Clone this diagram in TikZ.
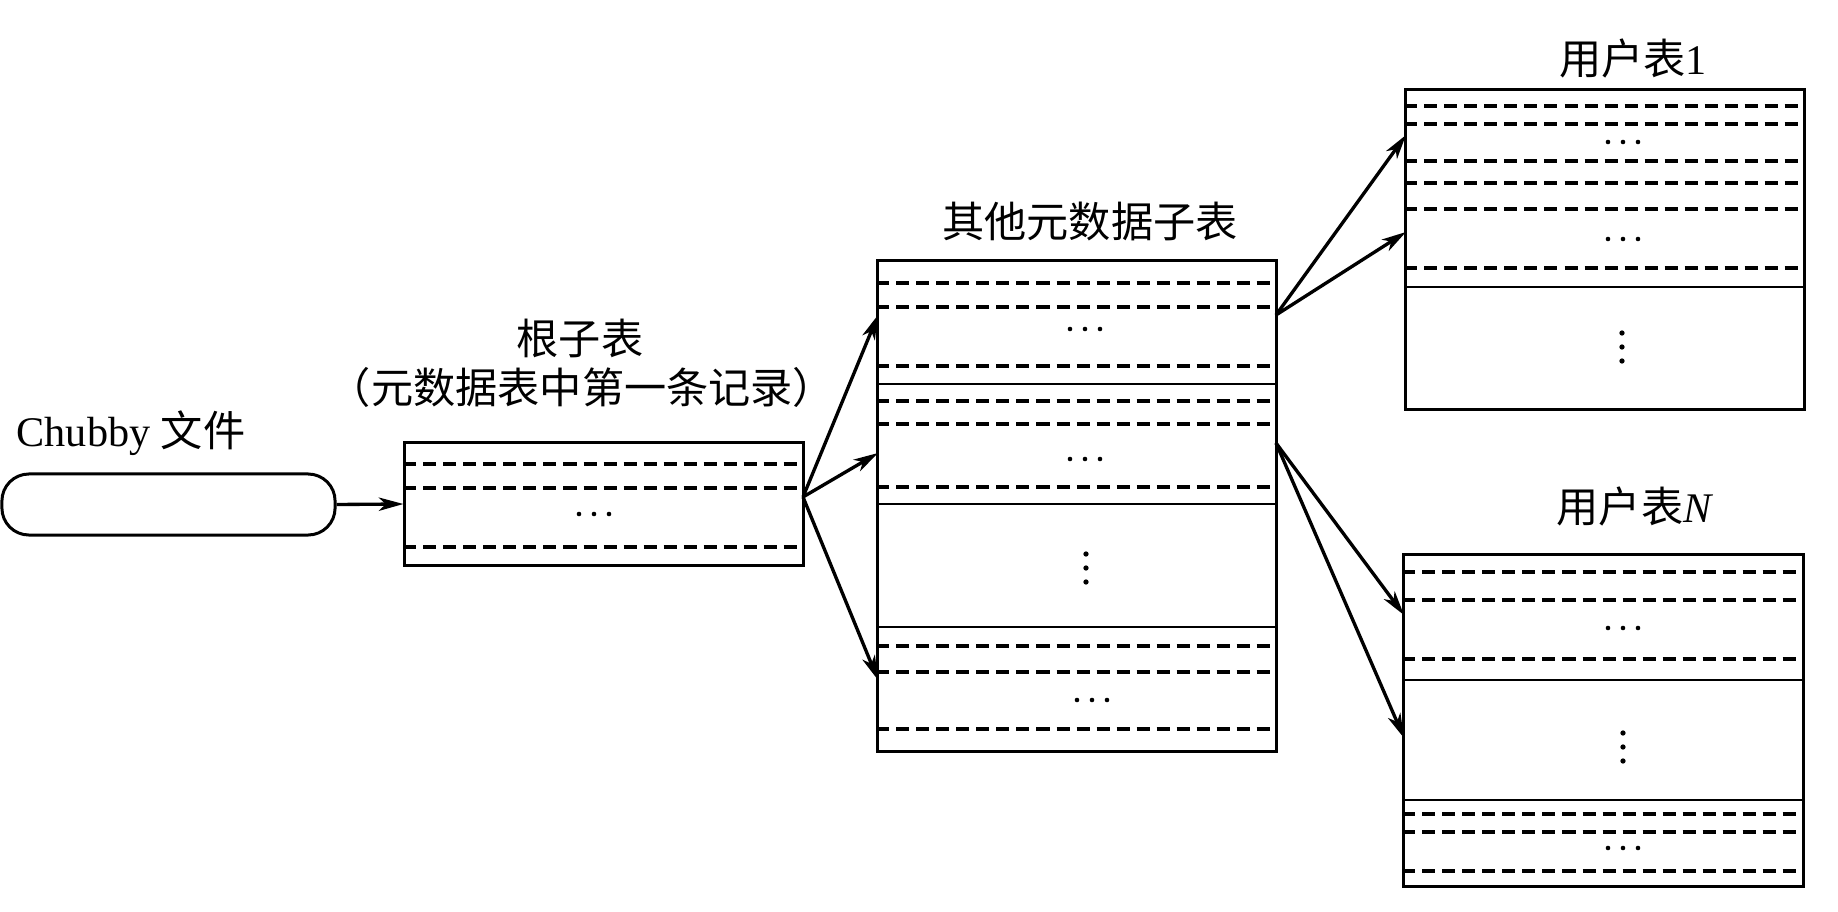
\documentclass[tikz,border=0pt]{standalone}
\usepackage{fontspec}
\setmainfont{Liberation Serif}
\newfontfamily\cjk{Noto Sans CJK SC}
\usetikzlibrary{arrows.meta}
\newcommand\hdt[2]{\foreach \dx in {-15,0,15}{\fill (#1+\dx,#2) circle[radius=0.65pt];}}
\newcommand\vdt[2]{\foreach \dy in {-14,0,14}{\fill (#1,#2+\dy) circle[radius=0.75pt];}}
\tikzset{
  tbox/.style={draw, line width=0.85pt, inner sep=0pt},
  dline/.style={line width=1pt, dash pattern=on 0.13cm off 0.07cm},
  sline/.style={line width=0.8pt},
  lbl/.style={inner sep=0pt, font=\fontsize{12pt}{14pt}\selectfont},
  conn/.style={line width=0.95pt, -{Stealth[length=7pt,width=3.8pt,inset=2pt]}}
}
\begin{document}
\begin{tikzpicture}[x=0.01cm, y=-0.01cm]
\useasboundingbox (0,0) rectangle (1838,912);
% Chubby file
\node[tbox, rounded corners=0.27cm, minimum width=3.33cm, minimum height=0.61cm] (chubby) at (168.5,504.5) {};
\node[lbl] (chubbylbl) at (131,433) {Chubby {\cjk 文件}};
% root tablet
\node[tbox, minimum width=3.98cm, minimum height=1.22cm] (root) at (604,504) {};
\node[lbl] (rootlbl1) at (580,338) {\cjk 根子表};
\node[lbl] (rootlbl2) at (582,387) {\cjk （元数据表中第一条记录）};
\foreach \y in {464,488,547} \draw[dline] (root.west |- 0,\y) -- (root.east |- 0,\y);
\hdt{594}{514}
% other metadata tablets
\node[tbox, minimum width=3.98cm, minimum height=4.90cm] (mid) at (1077,506) {};
\node[lbl] (midlbl) at (1090,222) {\cjk 其他元数据子表};
\foreach \y in {283,307,366,401,424,487,646,672,729} \draw[dline] (mid.west |- 0,\y) -- (mid.east |- 0,\y);
\foreach \y in {384,504,627} \draw[sline] (mid.west |- 0,\y) -- (mid.east |- 0,\y);
\hdt{1085}{329}
\hdt{1085}{459}
\vdt{1086}{568}
\hdt{1092}{700}
% user table 1
\node[tbox, minimum width=3.98cm, minimum height=3.19cm] (u1) at (1605,249.5) {};
\node[lbl] (u1lbl) at (1633,58) {{\cjk 用户表}1};
\foreach \y in {106,124,161,183,209,268} \draw[dline] (u1.west |- 0,\y) -- (u1.east |- 0,\y);
\draw[sline] (u1.west |- 0,287) -- (u1.east |- 0,287);
\hdt{1623}{142}
\hdt{1623}{239}
\vdt{1622}{347}
% user table N
\node[tbox, minimum width=3.99cm, minimum height=3.31cm] (uN) at (1603.5,720.5) {};
\node[lbl] (uNlbl) at (1635,506) {{\cjk 用户表}\textit{N}};
\foreach \y in {572,600,659,814,832,871} \draw[dline] (uN.west |- 0,\y) -- (uN.east |- 0,\y);
\foreach \y in {680,800} \draw[sline] (uN.west |- 0,\y) -- (uN.east |- 0,\y);
\hdt{1623}{628}
\vdt{1623}{747}
\hdt{1623}{848}
% connection points
\coordinate (rout) at (803,497);
\coordinate (min1) at (878,315);
\coordinate (min2) at (878,453);
\coordinate (min3) at (878,680);
\coordinate (mout1) at (1276,315);
\coordinate (mout2) at (1276,443);
\coordinate (u1in1) at (1406,135);
\coordinate (u1in2) at (1406,232);
\coordinate (uNin1) at (1404,615);
\coordinate (uNin2) at (1404,738);
% connectors
\draw[conn] (chubby.east) -- (root.west);
\draw[conn] (rout) -- (min1);
\draw[conn] (rout) -- (min2);
\draw[conn] (rout) -- (min3);
\draw[conn] (mout1) -- (u1in1);
\draw[conn] (mout1) -- (u1in2);
\draw[conn] (mout2) -- (uNin1);
\draw[conn] (mout2) -- (uNin2);
\end{tikzpicture}
\end{document}
